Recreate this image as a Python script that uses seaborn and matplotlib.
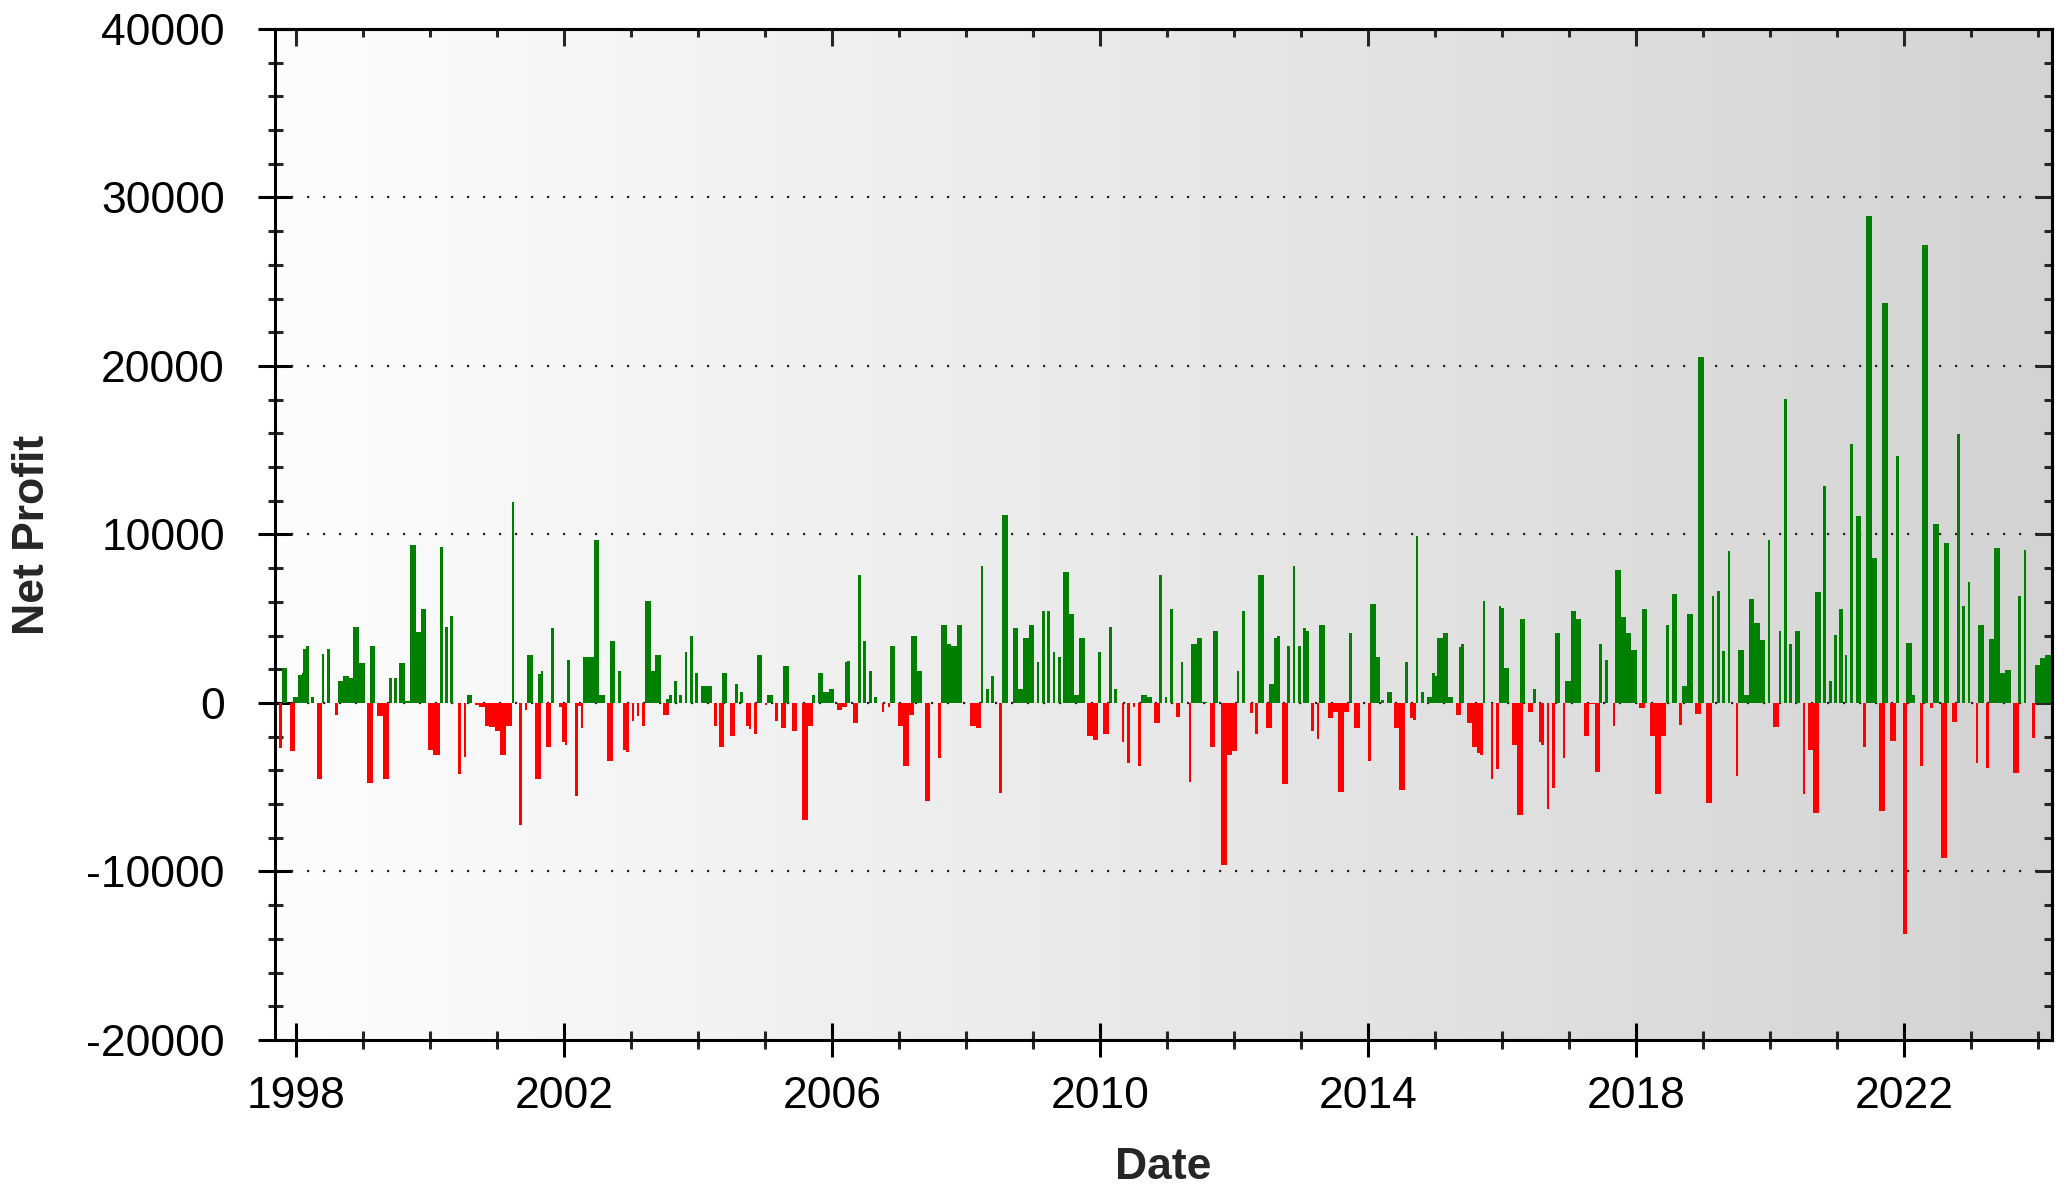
import numpy as np
import pandas as pd
import matplotlib
matplotlib.use("Agg")
import matplotlib.pyplot as plt
from matplotlib.colors import LinearSegmentedColormap
import seaborn as sns

# trade entry date (decimal year), holding period (days), net profit per trade
start = [
    # 1997 - 2000
    1997.741, 1997.791, 1997.911, 1997.950, 1998.035, 1998.085, 1998.109, 1998.149, 1998.229, 1998.309,
    1998.383, 1998.468, 1998.582, 1998.627, 1998.707, 1998.781, 1998.856, 1998.930, 1999.055, 1999.105,
    1999.214, 1999.304, 1999.383, 1999.463, 1999.542, 1999.617, 1999.702, 1999.786, 1999.866, 1999.975,
    2000.050, 2000.149, 2000.224, 2000.299, 2000.418, 2000.503, 2000.547, 2000.667, 2000.736, 2000.816,
    2000.886, 2000.965,
    # 2001 - 2004
    2001.045, 2001.135, 2001.219, 2001.334, 2001.418, 2001.453, 2001.573, 2001.617, 2001.652, 2001.727,
    2001.801, 2001.931, 2001.971, 2002.010, 2002.050, 2002.170, 2002.199, 2002.249, 2002.289, 2002.378,
    2002.453, 2002.518, 2002.647, 2002.687, 2002.811, 2002.886, 2002.926, 2003.010, 2003.085, 2003.165,
    2003.204, 2003.284, 2003.364, 2003.483, 2003.523, 2003.568, 2003.642, 2003.722, 2003.801, 2003.881,
    2003.961, 2004.040, 2004.080, 2004.120, 2004.239, 2004.309,
    # 2004 - 2007
    2004.358, 2004.478, 2004.557, 2004.627, 2004.716, 2004.756, 2004.836, 2004.876, 2004.999, 2005.035,
    2005.154, 2005.234, 2005.274, 2005.398, 2005.552, 2005.622, 2005.701, 2005.791, 2005.871, 2005.950,
    2006.070, 2006.149, 2006.189, 2006.229, 2006.308, 2006.388, 2006.467, 2006.552, 2006.632, 2006.741,
    2006.831, 2006.866, 2006.990, 2007.065, 2007.144, 2007.184, 2007.264, 2007.388, 2007.582,
    # 2007 - 2010
    2007.627, 2007.702, 2007.781, 2007.861, 2008.060, 2008.145, 2008.219, 2008.299, 2008.378, 2008.498,
    2008.538, 2008.697, 2008.777, 2008.856, 2008.936, 2009.055, 2009.135, 2009.214, 2009.294, 2009.374,
    2009.453, 2009.533, 2009.612, 2009.692, 2009.811, 2009.891, 2009.965, 2010.050, 2010.134, 2010.214,
    2010.324, 2010.408, 2010.488, 2010.573, 2010.612, 2010.697, 2010.806,
    # 2010 - 2014
    2010.885, 2010.965, 2011.045, 2011.134, 2011.204, 2011.323, 2011.363, 2011.443, 2011.522, 2011.642,
    2011.682, 2011.801, 2011.881, 2011.960, 2012.040, 2012.119, 2012.239, 2012.318, 2012.358, 2012.478,
    2012.517, 2012.597, 2012.637, 2012.716, 2012.796, 2012.876, 2012.955, 2013.035, 2013.075, 2013.154,
    2013.234, 2013.273, 2013.398, 2013.473, 2013.552, 2013.632, 2013.716, 2013.796, 2014.000, 2014.035,
    2014.109,
    # 2014 - 2017
    2014.199, 2014.279, 2014.388, 2014.468, 2014.552, 2014.632, 2014.672, 2014.711, 2014.791, 2014.876,
    2014.955, 2014.995, 2015.035, 2015.114, 2015.194, 2015.313, 2015.353, 2015.393, 2015.473, 2015.552,
    2015.632, 2015.672, 2015.711, 2015.831, 2015.911, 2015.950, 2015.990, 2016.030, 2016.149, 2016.229,
    2016.269, 2016.388, 2016.468, 2016.547, 2016.587, 2016.667, 2016.746, 2016.786, 2016.906, 2016.945,
    2017.025, 2017.105, 2017.224, 2017.303, 2017.383,
    # 2017 - 2020
    2017.452, 2017.537, 2017.651, 2017.691, 2017.771, 2017.850, 2017.930, 2018.049, 2018.089, 2018.209,
    2018.288, 2018.368, 2018.447, 2018.532, 2018.646, 2018.686, 2018.766, 2018.885, 2018.925, 2019.045,
    2019.129, 2019.209, 2019.288, 2019.368, 2019.487, 2019.527, 2019.607, 2019.686, 2019.766, 2019.845,
    2019.965, 2020.045, 2020.129, 2020.209, 2020.288, 2020.368, 2020.487, 2020.567, 2020.647,
    # 2020 - 2024
    2020.677, 2020.796, 2020.876, 2020.955, 2021.035, 2021.114, 2021.194, 2021.279, 2021.393, 2021.433,
    2021.507, 2021.632, 2021.677, 2021.796, 2021.876, 2021.990, 2022.035, 2022.090, 2022.239, 2022.269,
    2022.388, 2022.438, 2022.547, 2022.592, 2022.711, 2022.791, 2022.871, 2022.950, 2023.070, 2023.109,
    2023.224, 2023.274, 2023.348, 2023.423, 2023.507, 2023.627, 2023.706, 2023.786, 2023.910, 2023.950,
    2024.030, 2024.109,
]

days = [
    18, 29, 29, 33, 22, 13, 18, 15, 15, 29,
    15, 15, 16, 33, 29, 31, 31, 35, 33, 29,
    36, 29, 16, 16, 29, 31, 33, 33, 27, 31,
    35, 15, 15, 16, 16, 15, 29, 22, 33, 33,
    33, 29,
    33, 31, 13, 15, 13, 29, 29, 13, 15, 31,
    16, 25, 15, 15, 15, 15, 18, 15, 33, 29,
    27, 35, 29, 29, 15, 18, 16, 13, 15, 15,
    33, 33, 31, 31, 16, 15, 15, 15, 15, 15,
    16, 29, 18, 31, 15, 31,
    29, 27, 16, 18, 18, 15, 15, 31, 13, 29,
    15, 29, 31, 31, 31, 33, 18, 29, 29, 29,
    29, 29, 15, 15, 29, 15, 15, 15, 13, 15,
    15, 29, 31, 29, 29, 29, 31, 27, 15,
    31, 29, 29, 31, 31, 29, 15, 15, 15, 15,
    31, 29, 29, 29, 29, 15, 15, 15, 15, 15,
    29, 29, 29, 31, 33, 31, 16, 31, 15, 15,
    15, 15, 15, 15, 31, 27, 33,
    15, 15, 15, 25, 15, 15, 29, 29, 29, 29,
    31, 33, 33, 33, 15, 16, 15, 15, 33, 31,
    31, 16, 18, 31, 15, 15, 15, 15, 15, 15,
    15, 31, 31, 33, 33, 31, 15, 29, 15, 31,
    25,
    15, 29, 29, 29, 15, 15, 15, 15, 15, 29,
    15, 15, 29, 29, 29, 29, 15, 15, 29, 29,
    15, 15, 15, 15, 15, 15, 15, 29, 29, 29,
    29, 29, 15, 15, 15, 15, 15, 29, 15, 29,
    29, 29, 29, 29, 29,
    15, 15, 15, 29, 29, 29, 29, 29, 29, 29,
    29, 29, 16, 31, 15, 29, 31, 29, 33, 31,
    15, 15, 15, 15, 15, 29, 29, 29, 29, 29,
    15, 31, 15, 15, 15, 29, 15, 29, 29,
    33, 15, 18, 15, 18, 16, 16, 31, 15, 33,
    35, 31, 31, 31, 16, 18, 31, 25, 15, 33,
    18, 29, 33, 31, 31, 16, 16, 16, 15, 31,
    18, 31, 31, 31, 31, 31, 16, 16, 16, 29,
    29, 29,
]

profit = [
    -2650, 2060, -2830, 340, 1650, 1800, 3200, 3370, 340, -4500,
    2900, 3200, -700, 1330, 1620, 1460, 4500, 2400, -4750, 3370,
    -750, -4500, 1460, 1460, 2350, 100, 9400, 4200, 5550, -2770,
    -3090, 9250, 4500, 5150, -4200, -3230, 480, -120, -260, -1350,
    -1450, -1640,
    -3090, -1350, 11900, -7250, -400, 2870, -4500, 1720, 1920, -2630,
    4450, -260, -2340, -2480, 2570, -5500, -160, -1500, 2710, 2710,
    9680, 480, -3430, 3660, 1920, -2770, -2930, -1050, -750, -1390,
    6040, 1920, 2870, -710, 240, 480, 1290, 480, 3050, 4000,
    1760, 990, 870, 990, -1390, -2630,
    1780, -1980, 1130, 670, -1390, -1540, -1840, 2870, -100, 480,
    -1050, -1500, 2220, -1680, -6930, -1390, 480, 1780, 670, 830,
    -400, -260, 2420, 2510, -1190, 7620, 3660, 1920, 340, -550,
    -260, 3370, -1390, -3720, -710, 4000, 1880, -5800, -3290,
    4630, 3500, 3400, 4630, -1390, -1500, 8100, 830, 1580, -5350,
    11130, 4450, 830, 3840, 4630, 2420, 5430, 5430, 3050, 2710,
    7800, 5290, 480, 3840, -1980, -2180, 3050, -1840, 4500, 830,
    -2340, -3580, -260, -3720, 480, 340, -1190,
    7620, 340, 5580, -850, 2420, -4710, 3500, 3840, 80, -2630,
    4300, -9620, -3090, -2830, 1920, 5430, -590, -1840, 7620, -1500,
    1130, 3840, 4000, -4810, 3370, 8100, 3370, 4450, 4300, -1640,
    -2140, 4630, -910, -550, -5310, -550, 4160, -1500, -3430, 5880,
    2710,
    180, 660, -1460, -5160, 2420, -890, -1000, 9910, 660, 370,
    1780, 1620, 3840, 4180, 370, -710, 3330, 3520, -1190, -2600,
    -2950, -3100, 6070, -4540, -3900, 5780, 5620, 2080, -2490, -6640,
    4980, -550, 820, -2330, -2490, -6300, -5050, 4180, -3240, 1320,
    5430, 4980, -1960, -50, -4090,
    3510, 2540, -1360, 7880, 5130, 4160, 3130, -320, 5580, -1950,
    -5400, -1950, 4600, 6460, -1300, 1000, 5280, -680, 20530, -5930,
    6370, 6670, 3070, 9030, -4310, 3130, 500, 6170, 4750, 3720,
    9650, -1450, 4250, 18050, 3510, 4250, -5400, -2770, -6520,
    6610, 12860, 1300, 4010, 5580, 2860, 15370, 11120, -2600, 28880,
    8580, -6430, 23720, -2240, 14630, -13690, 3570, 500, -3720, 27200,
    -320, 10650, -9230, 9470, -1150, 15990, 5780, 7200, -3570, 4600,
    -3860, 3810, 9200, 1800, 1950, -4160, 6370, 9060, -2090, 2240,
    2680, 2860,
]

year_ticks = [1998, 2002, 2006, 2010, 2014, 2018, 2022]
profit_ticks = [-20000, -10000, 0, 10000, 20000, 30000, 40000]
grid_levels = [-10000, 0, 10000, 20000, 30000]

sns.set_theme(style="ticks")
plt.rcParams['font.family'] = ['Liberation Sans', 'DejaVu Sans']
plt.rcParams['axes.unicode_minus'] = False

df = pd.DataFrame({"start": start, "days": days, "profit": profit})
df["width"] = df["days"] / 365.25
df["color"] = np.where(df["profit"] >= 0, "#008000", "#ff0000")

x_min, x_max = 1997.687, 2024.209
y_min, y_max = -20000, 40000

fig = plt.figure(figsize=(10.36, 5.955), dpi=200)
ax = fig.add_axes([0.1327, 0.1268, 0.8576, 0.8489])

# grey gradient background, light on the left
bg = LinearSegmentedColormap.from_list("bg", ["#fdfdfd", "#d3d3d3"])
ax.imshow(np.linspace(0, 1, 256).reshape(1, -1), cmap=bg, aspect="auto",
          extent=[x_min, x_max, y_min, y_max], zorder=0)

for lvl in grid_levels:
    ax.axhline(lvl, color="#222222", lw=0.8, ls=(0, (1, 6.2)), zorder=1)

ax.bar(df["start"], df["profit"], width=df["width"], align="edge",
       color=df["color"], linewidth=0, zorder=2)

ax.set_xlim(x_min, x_max)
ax.set_ylim(y_min, y_max)
ax.set_xticks(year_ticks)
ax.set_xticks(np.arange(1998, 2025), minor=True)
ax.set_yticks(profit_ticks)
ax.set_yticks(np.arange(-20000, 40001, 2000), minor=True)
ax.set_xticklabels([str(y) for y in year_ticks])
ax.set_yticklabels([str(v) for v in profit_ticks])

for s in ax.spines.values():
    s.set_color("black")
    s.set_linewidth(1.1)

ax.tick_params(axis="both", which="major", direction="inout", length=12, width=1.1,
               labelsize=16, colors="black")
ax.tick_params(axis="y", which="major", pad=12)
ax.tick_params(axis="x", which="major", pad=7)
ax.tick_params(axis="y", which="minor", direction="inout", length=5.4, width=1.1)
ax.tick_params(axis="x", which="minor", direction="inout", length=6.5, width=1.1)

# inward ticks on top and right edges
top = ax.secondary_xaxis("top")
top.set_xticks(year_ticks)
top.set_xticks(np.arange(1998, 2025), minor=True)
top.tick_params(which="major", direction="in", length=6, width=1.1, labeltop=False)
top.tick_params(which="minor", direction="in", length=3, width=1.1)
right = ax.secondary_yaxis("right")
right.set_yticks(profit_ticks)
right.set_yticks(np.arange(-20000, 40001, 2000), minor=True)
right.tick_params(which="major", direction="in", length=6, width=1.1, labelright=False)
right.tick_params(which="minor", direction="in", length=3, width=1.1)
for sec in (top, right):
    for s in sec.spines.values():
        s.set_linewidth(1.1)
        s.set_color("black")

fig.text(33 / 2072, 0.5511, "Net Profit", rotation=90, ha="center", va="center",
         fontsize=16, fontweight="bold")
fig.text(0.5613, 0.020, "Date", ha="center", va="center", fontsize=16, fontweight="bold")

fig.savefig("out.png", dpi=200, facecolor="white")
